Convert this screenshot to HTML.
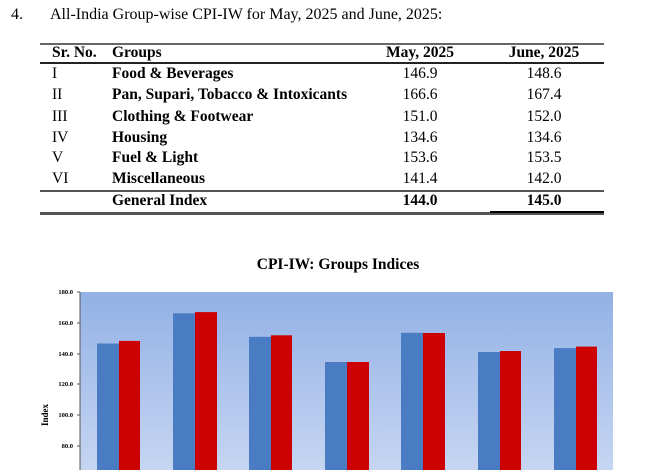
<!DOCTYPE html>
<html><head><style>
body{margin:0;width:648px;height:470px;background:#fff;font-family:"Liberation Serif",serif;overflow:hidden;position:relative;color:#000}
.a{position:absolute;white-space:nowrap}
.r{position:absolute;left:40px;width:564px;background:#222}
.b{font-weight:bold}
.c{text-align:center;width:80px}
</style></head><body>
<div class="a" style="left:11px;top:6px;font-size:16px">4.</div>
<div class="a" style="left:50px;top:6px;font-size:16px">All-India Group-wise CPI-IW for May, 2025 and June, 2025:</div>
<div class="r" style="top:43px;height:2px;background:#666"></div>
<div class="r" style="top:62px;height:1.5px"></div>
<div class="r" style="top:190px;height:2px;background:#555"></div>
<div class="r" style="top:212px;height:3px;background:#555"></div>
<div style="position:absolute;left:490px;top:211px;width:114px;height:2px;background:#000"></div>
<div style="font-size:15.5px">
<div class="a b" style="left:52px;top:44px">Sr. No.</div>
<div class="a b" style="left:112px;top:44px">Groups</div>
<div class="a b c" style="left:380px;top:44px">May, 2025</div>
<div class="a b c" style="left:504px;top:44px">June, 2025</div>

<div class="a" style="left:52px;top:65px">I</div><div class="a b" style="left:112px;top:65px">Food &amp; Beverages</div><div class="a c" style="left:380px;top:65px">146.9</div><div class="a c" style="left:504px;top:65px">148.6</div>
<div class="a" style="left:52px;top:86px">II</div><div class="a b" style="left:112px;top:86px">Pan, Supari, Tobacco &amp; Intoxicants</div><div class="a c" style="left:380px;top:86px">166.6</div><div class="a c" style="left:504px;top:86px">167.4</div>
<div class="a" style="left:52px;top:108px">III</div><div class="a b" style="left:112px;top:108px">Clothing &amp; Footwear</div><div class="a c" style="left:380px;top:108px">151.0</div><div class="a c" style="left:504px;top:108px">152.0</div>
<div class="a" style="left:52px;top:129px">IV</div><div class="a b" style="left:112px;top:129px">Housing</div><div class="a c" style="left:380px;top:129px">134.6</div><div class="a c" style="left:504px;top:129px">134.6</div>
<div class="a" style="left:52px;top:149px">V</div><div class="a b" style="left:112px;top:149px">Fuel &amp; Light</div><div class="a c" style="left:380px;top:149px">153.6</div><div class="a c" style="left:504px;top:149px">153.5</div>
<div class="a" style="left:52px;top:170px">VI</div><div class="a b" style="left:112px;top:170px">Miscellaneous</div><div class="a c" style="left:380px;top:170px">141.4</div><div class="a c" style="left:504px;top:170px">142.0</div>
<div class="a b" style="left:112px;top:192px">General Index</div><div class="a b c" style="left:380px;top:192px">144.0</div><div class="a b c" style="left:504px;top:192px">145.0</div>
</div>

<div class="a b" style="left:228px;top:256px;width:220px;text-align:center;font-size:15.5px">CPI-IW: Groups Indices</div>

<svg width="648" height="470" style="position:absolute;left:0;top:0">
<defs><linearGradient id="g" x1="0" y1="0" x2="0" y2="1">
<stop offset="0" stop-color="#93b1e6"/><stop offset="1" stop-color="#c9d8f2"/></linearGradient></defs>
<rect x="80" y="292" width="533" height="190" fill="url(#g)"/>
<line x1="80" y1="292" x2="80" y2="470" stroke="#555" stroke-width="1"/>
<g font-family="Liberation Serif" font-weight="bold" font-size="6.5" text-anchor="end">
<text x="73" y="294">180.0</text><text x="73" y="325">160.0</text><text x="73" y="356">140.0</text>
<text x="73" y="386">120.0</text><text x="73" y="417">100.0</text><text x="73" y="448">80.0</text>
</g>
<line x1="77" y1="292" x2="80" y2="292" stroke="#555"/><line x1="77" y1="323" x2="80" y2="323" stroke="#555"/>
<line x1="77" y1="354" x2="80" y2="354" stroke="#555"/><line x1="77" y1="384" x2="80" y2="384" stroke="#555"/>
<line x1="77" y1="415" x2="80" y2="415" stroke="#555"/><line x1="77" y1="446" x2="80" y2="446" stroke="#555"/>
<text transform="translate(48,415) rotate(-90)" font-family="Liberation Serif" font-weight="bold" font-size="9" text-anchor="middle">Index</text>
<g fill="#4a7cc4">
<rect x="97" y="343.5" width="22" height="130"/>
<rect x="173" y="313.3" width="22" height="160"/>
<rect x="249" y="336.8" width="22" height="140"/>
<rect x="325" y="362" width="22" height="110"/>
<rect x="401" y="332.8" width="22" height="140"/>
<rect x="478" y="352" width="22" height="120"/>
<rect x="554" y="348.1" width="22" height="130"/>
</g>
<g fill="#cc0000">
<rect x="119" y="340.9" width="21" height="130"/>
<rect x="195" y="312.1" width="22" height="160"/>
<rect x="271" y="335.3" width="21" height="140"/>
<rect x="347" y="362" width="22" height="110"/>
<rect x="423" y="333" width="22" height="140"/>
<rect x="500" y="351" width="21" height="120"/>
<rect x="576" y="346.6" width="21" height="130"/>
</g>
</svg>
</body></html>
